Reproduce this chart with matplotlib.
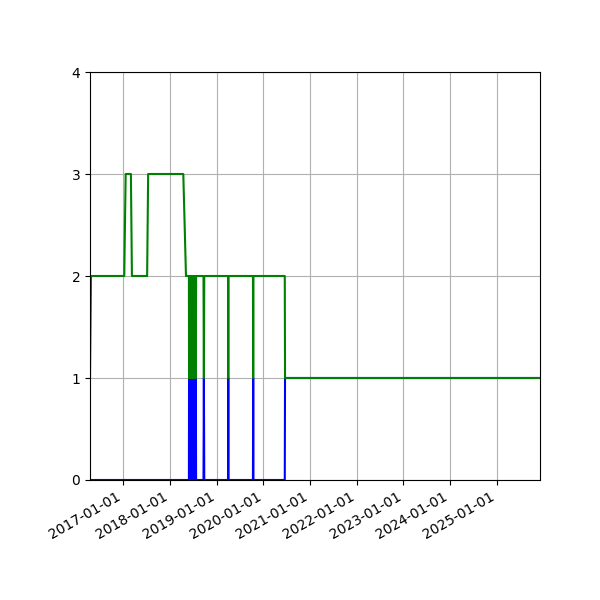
import numpy as np
import pandas as pd
import matplotlib
matplotlib.use("Agg")
import matplotlib.pyplot as plt
import matplotlib.dates as mdates

# =========================
# Data
# =========================
dates = [
    "2016-04-15", "2016-04-23",
    "2017-01-08", "2017-01-19",
    "2017-03-01", "2017-03-09",
    "2017-07-06", "2017-07-14",
    "2018-04-15", "2018-05-06",
    # dense block of events
    "2018-05-29", "2018-05-30", "2018-06-01", "2018-06-02",
    "2018-06-04", "2018-06-05", "2018-06-07", "2018-06-08",
    "2018-06-10", "2018-06-11", "2018-06-13", "2018-06-14",
    "2018-06-16", "2018-06-17", "2018-06-19", "2018-06-20",
    "2018-06-22", "2018-06-23", "2018-06-25", "2018-06-26",
    "2018-06-28", "2018-06-29", "2018-07-01", "2018-07-02",
    "2018-07-04", "2018-07-05", "2018-07-07", "2018-07-08",
    "2018-07-10", "2018-07-11", "2018-07-13", "2018-07-14",
    "2018-07-16", "2018-07-17", "2018-07-19", "2018-07-20",
    "2018-07-22", "2018-07-24",
    # single events
    "2018-09-20", "2018-09-23", "2018-09-26",
    "2019-03-31", "2019-04-02", "2019-04-04",
    "2019-10-12", "2019-10-14", "2019-10-16",
    "2020-06-17", "2020-06-19",
    "2025-12-05",
]

blue_vals = [
    0, 0,
    0, 0,
    0, 0,
    0, 0,
    0, 0,
    0, 1, 0, 1,
    0, 1, 0, 1,
    0, 1, 0, 1,
    0, 1, 0, 1,
    0, 1, 0, 1,
    0, 1, 0, 1,
    0, 1, 0, 1,
    0, 1, 0, 1,
    0, 1, 0, 1,
    1, 0,
    0, 1, 0,
    0, 1, 0,
    0, 1, 0,
    0, 1,
    1,
]

green_vals = [
    1, 2,
    2, 3,
    3, 2,
    2, 3,
    3, 2,
    2, 1, 2, 1,
    2, 1, 2, 1,
    2, 1, 2, 1,
    2, 1, 2, 1,
    2, 1, 2, 1,
    2, 1, 2, 1,
    2, 1, 2, 1,
    2, 1, 2, 1,
    2, 1, 2, 1,
    1, 2,
    2, 1, 2,
    2, 1, 2,
    2, 1, 2,
    2, 1,
    1,
]

x = pd.to_datetime(dates)

# =========================
# Plot
# =========================
fig, ax = plt.subplots(figsize=(6, 6), dpi=100)
fig.subplots_adjust(left=0.15, right=0.9, top=0.88, bottom=0.2)

ax.plot(x, blue_vals, color="b")
ax.plot(x, green_vals, color="g")

ax.set_xlim(x[0], x[-1])
ax.set_ylim(0, 4)
ax.set_yticks([0, 1, 2, 3, 4])

ax.xaxis.set_major_locator(mdates.YearLocator())
ax.xaxis.set_major_formatter(mdates.DateFormatter("%Y-%m-%d"))
ax.grid(True)
fig.autofmt_xdate()

fig.savefig("out.png", dpi=100)
